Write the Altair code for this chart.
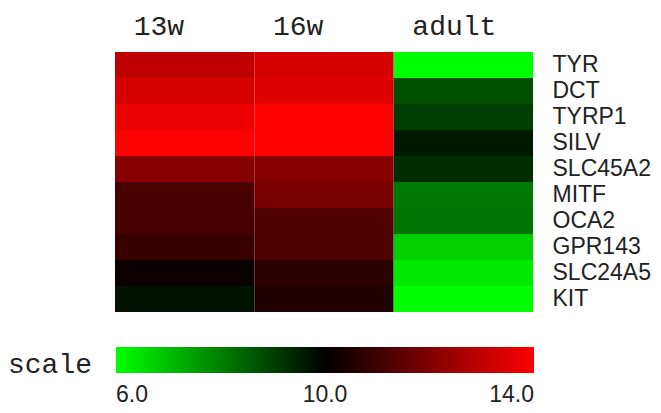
import altair as alt
import pandas as pd

genes = ["TYR", "DCT", "TYRP1", "SILV", "SLC45A2", "MITF", "OCA2", "GPR143", "SLC24A5", "KIT"]
stages = ["13w", "16w", "adult"]
v13w = [13.0, 13.35, 13.75, 14.0, 12.1, 11.15, 11.15, 10.9, 10.15, 9.7]
v16w = [13.35, 13.5, 14.0, 14.0, 12.1, 11.9, 11.25, 11.25, 10.7, 10.5]
vadult = [6.0, 8.75, 9.05, 9.6, 9.3, 8.1, 8.2, 6.75, 6.35, 6.0]

rows = []
for s, vals in zip(stages, [v13w, v16w, vadult]):
    for g, v in zip(genes, vals):
        rows.append({"stage": s, "gene": g, "value": v})
df = pd.DataFrame(rows)

cscale = alt.Scale(domain=[6, 10, 14], range=["#00ff00", "#000000", "#ff0000"], interpolate="rgb")

chart = alt.Chart(df).mark_rect().encode(
    x=alt.X("stage:N", sort=stages, title=None,
            scale=alt.Scale(paddingInner=0, paddingOuter=0),
            axis=alt.Axis(orient="top", labelAlign="left", labelOffset=-51,
                          labelBaseline="alphabetic", labelPadding=18, tickSize=0,
                          ticks=False, domain=False, labelAngle=0,
                          labelFont="Liberation Mono", labelFontSize=28, labelColor="#222222")),
    y=alt.Y("gene:N", sort=genes, title=None,
            scale=alt.Scale(paddingInner=0, paddingOuter=0),
            axis=alt.Axis(orient="right", labelPadding=19, tickSize=0, ticks=False,
                          domain=False, labelFont="Liberation Sans", labelFontSize=23,
                          labelColor="#222222")),
    color=alt.Color("value:Q", scale=cscale,
                    legend=alt.Legend(title="scale", orient="none", legendX=-107, legendY=295,
                                      direction="horizontal", titleOrient="left",
                                      titlePadding=23, titleFont="Liberation Mono",
                                      titleFontSize=28, titleFontWeight="normal",
                                      titleColor="#222222", titleBaseline="alphabetic",
                                      titleAnchor="end",
                                      gradientLength=418, gradientThickness=26,
                                      gradientStrokeWidth=0, values=[6, 10, 14], format=".1f",
                                      labelFont="Liberation Sans", labelFontSize=23,
                                      labelColor="#222222", labelOffset=11, padding=0)),
).properties(
    width=418, height=260,
    autosize=alt.AutoSizeParams(type="none"),
    padding={"left": 107, "top": 44, "right": 120, "bottom": 96},
).configure_view(strokeWidth=0)

chart.save("out.html", embed_options={"renderer": "svg", "actions": False})
